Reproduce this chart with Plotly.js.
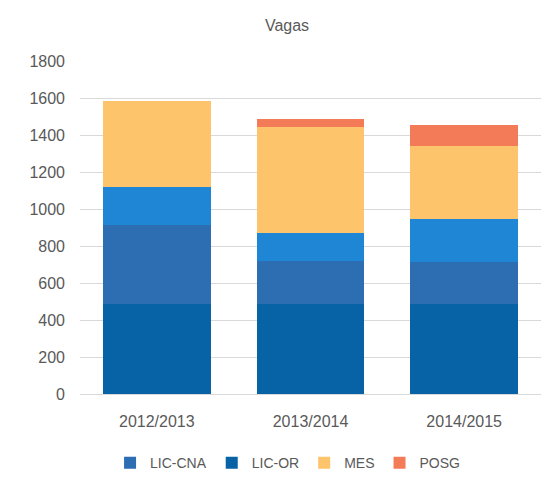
<!DOCTYPE html>
<html>
<head>
<meta charset="utf-8">
<script src="https://cdn.plot.ly/plotly-3.0.1.min.js"></script>
<style>html,body{margin:0;padding:0;background:#fff;}#chart{width:553px;height:486px;}</style>
</head>
<body>
<div id="chart"></div>
<script>
var categories = ["2012/2013", "2013/2014", "2014/2015"];
var licOr   = [488, 488, 488];
var licCna  = [425, 229, 226];
var licCna2 = [204, 151, 230];
var mes     = [468, 574, 399];
var posg    = [0, 44, 112];
var yTicks  = [0, 200, 400, 600, 800, 1000, 1200, 1400, 1600, 1800];

var fontFam = "Liberation Sans, Arial, sans-serif";
var traces = [
  {name: "LIC-OR", y: licOr, marker: {color: "#0762A6"}, legendrank: 2},
  {name: "LIC-CNA", y: licCna, marker: {color: "#2D6EB3"}, legendrank: 1},
  {name: "LIC-CNA", y: licCna2, marker: {color: "#1F86D6"}, showlegend: false},
  {name: "MES", y: mes, marker: {color: "#FDC46C"}, legendrank: 3},
  {name: "POSG", y: posg, marker: {color: "#F47B57"}, legendrank: 4}
].map(function(t){ t.type = "bar"; t.x = categories; t.hoverinfo = "y+name"; return t; });

var layout = {
  width: 553, height: 486,
  barmode: "stack", bargap: 0.30,
  margin: {l: 80, r: 12, t: 61, b: 92},
  paper_bgcolor: "#fff", plot_bgcolor: "#fff",
  font: {family: fontFam, color: "#595959", size: 15},
  title: {text: "Vagas", x: 0.519, xref: "container", xanchor: "center", y: 0.948, yref: "container", yanchor: "middle", font: {size: 16, color: "#595959"}},
  xaxis: {tickfont: {size: 16}, ticklabelstandoff: 16, showline: false, zeroline: false},
  yaxis: {range: [0, 1800], tickvals: yTicks, tickfont: {size: 16}, ticklabelstandoff: 14,
          gridcolor: "#d9d9d9", gridwidth: 1, zeroline: true, zerolinecolor: "#d9d9d9", showline: false},
  legend: {orientation: "h", x: 0.52, xref: "container", xanchor: "center", y: 0.047, yref: "container", yanchor: "middle",
           font: {size: 14, color: "#595959"}, traceorder: "normal"},
  showlegend: true
};
Plotly.newPlot("chart", traces, layout, {displayModeBar: false, staticPlot: true});
</script>
</body>
</html>
